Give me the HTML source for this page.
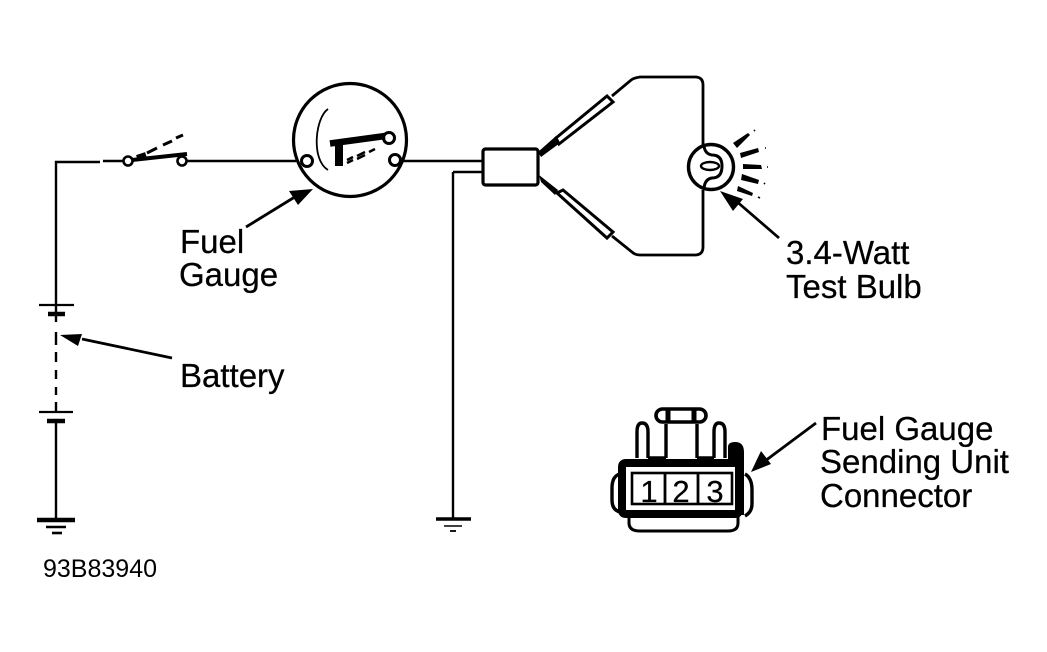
<!DOCTYPE html>
<html><head><meta charset="utf-8"><style>
html,body{margin:0;padding:0;background:#fff;width:1047px;height:652px;overflow:hidden}
svg{display:block}
text{font-family:"Liberation Sans",sans-serif;fill:#000}
.l{font-size:33px;stroke:#000;stroke-width:.25px}
</style></head><body>
<svg width="1047" height="652" viewBox="0 0 1047 652" xmlns="http://www.w3.org/2000/svg">
<g fill="none" stroke="#000" stroke-width="2.4">
<!-- left circuit -->
<path d="M56 304V162H100M103 161H123M186 161H296"/>
<circle cx="128" cy="161" r="4.5" stroke-width="2.6"/>
<circle cx="182" cy="161" r="4.5" stroke-width="2.6"/>
<path d="M132 160L187 154" stroke-width="4"/>
<path d="M137 158L146 155" stroke-width="6"/>
<path d="M147 153L157 148M163 145L172 141M176 138L183 135" stroke-width="3"/>
<!-- battery -->
<path d="M39 305H74" stroke-width="2.2"/>
<path d="M48 314H65" stroke-width="4.5"/>
<path d="M56 305V322M56 332V345M56 352V362M56 370V379M56 387V395M56 402V412"/>
<path d="M39 412H73" stroke-width="2.2"/>
<path d="M47 421H65" stroke-width="4.5"/>
<path d="M56 421V520"/>
<path d="M37 520H75" stroke-width="4.5"/>
<path d="M46 527H66" stroke-width="2.6"/>
<path d="M52 533H62" stroke-width="2.6"/>
<!-- gauge -->
<circle cx="350" cy="140" r="56.5" stroke-width="3.2"/>
<circle cx="307" cy="161" r="5.5" stroke-width="3"/>
<circle cx="395" cy="160" r="5.5" stroke-width="3"/>
<circle cx="389" cy="138" r="5.5" stroke-width="3"/>
<path d="M328 109C315 118 311 160 328 170" stroke-width="1.8"/>
<path d="M330 143.5L385 136" stroke-width="6.5"/>
<path d="M339 145V166" stroke-width="8"/>
<path d="M347 160L353 157M347 163L353 160M357 156L365 152M357 159L365 155M369 152L375 149" stroke-width="2.4"/>
<path d="M401 161H482M453 172H482M453 172V518"/>
<!-- ground 2 -->
<path d="M436 519H471" stroke-width="3.5"/>
<path d="M444 526H462" stroke-width="1.6"/>
<path d="M450 531H456" stroke-width="1.8"/>
<!-- connector box -->
<rect x="483" y="149" width="55" height="36" rx="2.5" stroke-width="3.2"/>
<!-- probes -->
<path d="M556 138L607 96L613 102L559 144Z" stroke-width="3"/>
<path d="M557 193L563 190L613 232L607 238Z" stroke-width="3"/>
<path d="M612 96L630 81Q633 78 640 77H695Q703 77 703 85V145" stroke-width="2.8"/>
<path d="M612 236L632 252Q635 255 640 255H695Q703 255 703 247V190" stroke-width="2.8"/>
<!-- bulb -->
<circle cx="711" cy="167" r="22.5" stroke-width="3.4"/>
<path d="M704 146Q705 154 712 155Q722 155 722 166Q722 178 712 178Q705 179 704 188" stroke-width="3"/>
<ellipse cx="710" cy="166" rx="9" ry="4" stroke-width="2.4"/>
</g>
<g fill="#000">
<path d="M538 152L556 136L560 143L541 157Z"/>
<path d="M539 175L558 190L555 195L541 182Z"/>
<!-- rays -->
<path d="M733 143L748 133L750 135L737 148Z"/>
<path d="M740 153L758 148L759 152L741 158Z"/>
<path d="M743 164L761 165L762 169L743 169Z"/>
<path d="M742 174L759 180L758 184L741 180Z"/>
<path d="M738 186L753 193L752 196L737 191Z"/>
</g>
<g stroke="#000" fill="none">
<path d="M754 131L755 130M765 148L766 148M767 167L768 167M764 183L765 184M758 197L760 198" stroke-width="1.6"/>
</g>
<!-- leader arrows -->
<g stroke="#000" stroke-width="2.8" fill="#000">
<path d="M246 227L298 195" fill="none"/>
<path d="M313 189L289 191L298 205Z" stroke="none"/>
<path d="M172 358L82 339" fill="none"/>
<path d="M60 335L82 334L78 346Z" stroke="none"/>
<path d="M779 238L735 200" fill="none"/>
<path d="M720 191L743 199L733 211Z" stroke="none"/>
<path d="M816 423L765 461" fill="none"/>
<path d="M751 472L761 451L771 464Z" stroke="none"/>
</g>
<!-- sending unit connector -->
<g fill="none" stroke="#000">
<path d="M626 463H735Q739 463 739 467V510Q739 514 735 514H626Q622 514 622 510V467Q622 463 626 463Z" stroke-width="8"/>
<path d="M620 474Q612 476 612 488V500Q612 510 620 512" stroke-width="3.4"/>
<path d="M745 474Q752 478 752 490V504Q752 512 745 516" stroke-width="3.4"/>
<path d="M629 517V523Q629 531 640 531H728Q738 531 738 523V517" stroke-width="3"/>
<path d="M644 531H722" stroke-width="3"/>
<path d="M637 458V432Q637 423 642 423Q648 423 648 432V458" stroke-width="3.4"/>
<path d="M714 458V432Q714 423 719 423Q725 423 725 432V458" stroke-width="3.4"/>
<path d="M666 458V424M697 458V424" stroke-width="3.4"/>
<rect x="656" y="409" width="50" height="13" rx="6.5" stroke-width="3.6"/>
<path d="M668 409V422M694 409V422" stroke-width="5"/>
<path d="M648 458H666M697 458H714" stroke-width="3.4"/>
<rect x="632" y="473" width="100" height="31" fill="#fff" stroke-width="2.6"/>
<path d="M665 473V504M698 473V504" stroke-width="2.8"/>
</g>
<path d="M728 462V447Q728 442 735 442Q744 442 744 452V515H737V462Z" fill="#000"/>
<!-- numbers -->
<text class="l" x="649" y="502" text-anchor="middle" style="font-size:31px">1</text>
<text class="l" x="681" y="502" text-anchor="middle" style="font-size:31px">2</text>
<text class="l" x="715" y="502" text-anchor="middle" style="font-size:31px">3</text>
<!-- labels -->
<text class="l" x="180" y="253">Fuel</text>
<text class="l" x="179" y="286">Gauge</text>
<text class="l" x="180" y="387">Battery</text>
<text class="l" x="786" y="264">3.4-Watt</text>
<text class="l" x="786" y="298">Test Bulb</text>
<text class="l" x="821" y="440">Fuel Gauge</text>
<text class="l" x="820" y="473">Sending Unit</text>
<text class="l" x="820" y="507">Connector</text>
<text x="43" y="577" style="font-size:25px">93B83940</text>
</svg>
</body></html>
